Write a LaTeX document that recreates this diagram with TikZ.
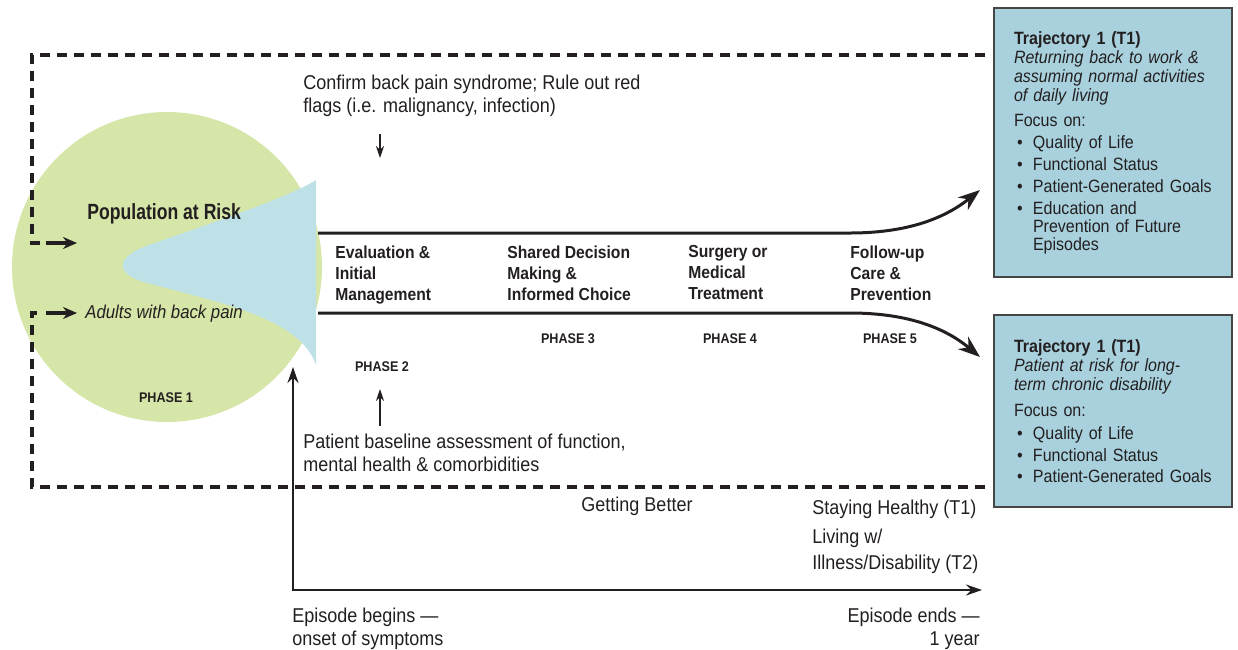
\documentclass[tikz,border=0pt]{standalone}
\usepackage{fontspec}
\setmainfont[FakeStretch=0.9]{Liberation Sans}
\newfontfamily\narrowfont[FakeStretch=0.8]{Liberation Sans}
\usetikzlibrary{arrows.meta}

\definecolor{riskgreen}{RGB}{214,230,168}
\definecolor{funnelblue}{RGB}{189,225,231}
\definecolor{trajblue}{RGB}{168,209,221}
\definecolor{boxgray}{RGB}{70,70,70}
\definecolor{ink}{RGB}{35,31,32}

\newcommand{\bul}{\makebox[9.5pt][l]{\hspace{1.5pt}\textbullet}}
\newcommand{\bulskip}{\hspace*{9.5pt}}

\begin{document}
\begin{tikzpicture}[x=0.5pt,y=-0.5pt,
    every node/.style={inner sep=0pt, text=ink},
    bodytext/.style={anchor=north west, align=left, font=\fontsize{10}{11.5}\selectfont},
    steptext/.style={anchor=north west, align=left, font=\bfseries\fontsize{8.7}{10.5}\selectfont},
    phaselabel/.style={font=\bfseries\fontsize{7}{8}\selectfont},
    trajbox/.style={draw=boxgray, line width=1pt, fill=trajblue, anchor=north west,
        inner xsep=10pt, text width=99pt, align=left, minimum height=#1,
        font=\fontsize{8.9}{9.5}\selectfont},
    track/.style={draw=ink, line width=1.5pt, -{Stealth[length=11pt,width=8pt]}},
    dashline/.style={draw=ink, line width=2pt, dash pattern=on 5pt off 3.5pt},
    sidearrow/.style={draw=ink, line width=2pt, -{Stealth[length=7pt,width=6pt]}},
    axis/.style={draw=ink, line width=1pt, {Stealth[length=8pt,width=5.5pt]}-{Stealth[length=8pt,width=5.5pt]}},
    pointer/.style={draw=ink, line width=0.8pt, -{Stealth[length=6pt,width=4pt]}}]
    \useasboundingbox (0,0) rectangle (1238,649);

    \fill[riskgreen] (167,267) circle [radius=155];
    \fill[funnelblue] (316,180) .. controls (290,197) and (200,227) .. (155,243)
        .. controls (112,256) and (112,276) .. (155,285)
        .. controls (220,303) and (300,318) .. (316,365) -- cycle;

    \coordinate (upstart) at (318,233);
    \coordinate (upend) at (980,190);
    \coordinate (lowstart) at (318,313);
    \coordinate (lowend) at (980,357);
    \draw[track] (upstart) -- (850,233) .. controls (915,233) and (950,214) .. (upend);
    \draw[track] (lowstart) -- (850,313) .. controls (915,313) and (950,332) .. (lowend);

    \draw[dashline] (985,55) -- (32,55) -- (32,243) -- (40,243);
    \draw[dashline] (985,487) -- (32,487) -- (32,313) -- (40,313);
    \coordinate (inA) at (46,243);
    \coordinate (inB) at (46,313);
    \draw[sidearrow] (inA) -- ++(31,0);
    \draw[sidearrow] (inB) -- ++(31,0);

    \coordinate (origin) at (293,590);
    \coordinate (onset) at (293,367);
    \coordinate (yearend) at (982,590);
    \draw[axis] (onset) -- (origin) -- (yearend);

    \node[bodytext] (confirm) at (303,75) {Confirm back pain syndrome; Rule out red\\flags (i.e. malignancy, infection)};
    \coordinate (confirmfrom) at (380,134);
    \coordinate (confirmtip) at (380,158);
    \draw[pointer] (confirmfrom) -- (confirmtip);

    \node[anchor=north west, font=\narrowfont\bfseries\fontsize{11}{13}\selectfont] (poprisk) at (87,203) {Population at Risk};
    \node[anchor=north west, font=\itshape\fontsize{9.3}{11}\selectfont] (adults) at (85,305) {Adults with back pain};
    \node[phaselabel] (phaseone) at (166,398) {PHASE 1};

    \node[steptext] (evalstep) at (335,245) {Evaluation \&\\Initial\\Management};
    \node[steptext] (sharedstep) at (507,245) {Shared Decision\\Making \&\\Informed Choice};
    \node[steptext] (surgstep) at (688,245) {Surgery or\\Medical\\Treatment};
    \node[steptext] (followstep) at (850,245) {Follow-up\\Care \&\\Prevention};

    \node[phaselabel] (phasetwo) at (382,367) {PHASE 2};
    \node[phaselabel] (phasethree) at (568,339) {PHASE 3};
    \node[phaselabel] (phasefour) at (730,339) {PHASE 4};
    \node[phaselabel] (phasefive) at (890,339) {PHASE 5};

    \node[bodytext] (baseline) at (303,434) {Patient baseline assessment of function,\\mental health \& comorbidities};
    \coordinate (baselinefrom) at (380,426);
    \coordinate (baselinetip) at (380,389);
    \draw[pointer] (baselinefrom) -- (baselinetip);

    \node[font=\fontsize{10}{11.5}\selectfont] (better) at (637,506) {Getting Better};
    \node[bodytext] (healthy) at (812,500) {Staying Healthy (T1)};
    \node[bodytext, font=\fontsize{10}{13}\selectfont] (living) at (812,529) {Living w/\\Illness/Disability (T2)};

    \node[bodytext] (begins) at (292,608) {Episode begins ---\\onset of symptoms};
    \node[bodytext, anchor=north east, align=right] (ends) at (980,608) {Episode ends ---\\1 year};

    \node[trajbox=134.5pt] (trajA) at (993,7) {\textbf{Trajectory 1 (T1)}\\
        \textit{Returning back to work \&}\\
        \textit{assuming normal activities}\\
        \textit{of daily living}\\[3pt]
        Focus on:\\[1.5pt]
        \bul Quality of Life\\[1.5pt]
        \bul Functional Status\\[1.5pt]
        \bul \mbox{Patient-Generated Goals}\\[1.5pt]
        \bul Education and\\[-0.5pt]
        \bulskip Prevention of Future\\[-0.5pt]
        \bulskip Episodes};
    \node[trajbox=96pt] (trajB) at (993,314) {\textbf{Trajectory 1 (T1)}\\
        \textit{Patient at risk for long-}\\
        \textit{term chronic disability}\\[3.5pt]
        Focus on:\\[2pt]
        \bul Quality of Life\\[1.5pt]
        \bul Functional Status\\[1pt]
        \bul \mbox{Patient-Generated Goals}};
\end{tikzpicture}
\end{document}
